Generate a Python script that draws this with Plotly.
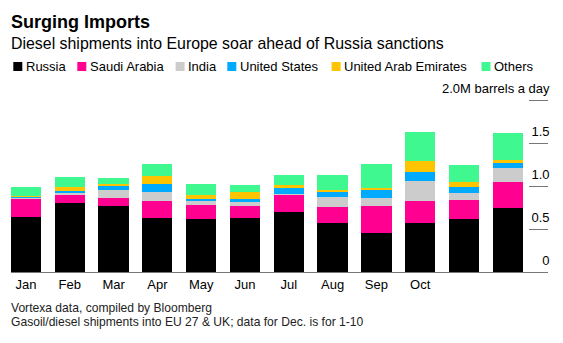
import plotly.graph_objects as go

# Monthly diesel/gasoil imports into EU 27 & UK, million barrels a day
months = ["Jan", "Feb", "Mar", "Apr", "May", "Jun",
          "Jul", "Aug", "Sep", "Oct", "Nov", "Dec"]
russia = [0.646, 0.809, 0.774, 0.626, 0.619, 0.630, 0.696, 0.568, 0.455, 0.572, 0.615, 0.751]
saudi_arabia = [0.206, 0.089, 0.086, 0.202, 0.163, 0.144, 0.214, 0.195, 0.315, 0.261, 0.230, 0.304]
india = [0.012, 0.035, 0.097, 0.105, 0.058, 0.047, 0.004, 0.109, 0.089, 0.226, 0.074, 0.160]
united_states = [0.012, 0.012, 0.051, 0.097, 0.012, 0.027, 0.070, 0.070, 0.093, 0.109, 0.074, 0.054]
uae = [0.016, 0.047, 0.023, 0.093, 0.051, 0.086, 0.031, 0.016, 0.031, 0.132, 0.054, 0.035]
others = [0.097, 0.121, 0.070, 0.136, 0.125, 0.082, 0.117, 0.175, 0.280, 0.335, 0.198, 0.323]

series_names = ["Russia", "Saudi Arabia", "India", "United States",
                "United Arab Emirates", "Others"]
series_values = [russia, saudi_arabia, india, united_states, uae, others]
series_colors = ["#000000", "#ff0090", "#cccccc", "#00aaff", "#ffc400", "#40f890"]

y_tick_vals = [0, 0.5, 1.0, 1.5, 2.0]
y_tick_text = ["0", "0.5", "1.0", "1.5", "2.0M barrels a day"]

title = "Surging Imports"
subtitle = "Diesel shipments into Europe soar ahead of Russia sanctions"
source_lines = ["Vortexa data, compiled by Bloomberg",
                "Gasoil/diesel shipments into EU 27 & UK; data for Dec. is for 1-10"]

FONT = "Liberation Sans, Arial, Helvetica, sans-serif"
W, H = 563, 343
ML, MR, MT, MB = 11, 15, 74, 71
PW, PH = W - ML - MR, H - MT - MB


def px_x(p):
    return (p - ML) / PW


def px_y(p):
    return (H - MB - p) / PH


fig = go.Figure()
for name, vals, color in zip(series_names, series_values, series_colors):
    fig.add_trace(go.Bar(
        x=months, y=vals, name=name,
        marker=dict(color=color, line=dict(width=0)),
        hovertemplate="%{x}: %{y:.2f}M<extra>" + name + "</extra>",
    ))

annotations = []
shapes = []

# headline and subheading
annotations.append(dict(text="<b>" + title + "</b>", x=px_x(9.5), y=px_y(21.7),
                        font=dict(size=18, color="#000000", family=FONT)))
annotations.append(dict(text=subtitle, x=px_x(9.5), y=px_y(43),
                        font=dict(size=15.9, color="#000000", family=FONT)))

# key: colour squares followed by series names
legend_left = [13.3, 77.3, 175.6, 227.3, 331.6, 481.5]
for left, name, color in zip(legend_left, series_names, series_colors):
    shapes.append(dict(type="rect", xref="paper", yref="paper",
                       x0=px_x(left), x1=px_x(left + 9),
                       y0=px_y(71), y1=px_y(62),
                       fillcolor=color, line=dict(width=0)))
    annotations.append(dict(text=name, x=px_x(left + 11.5), y=px_y(66.5),
                            font=dict(size=13, color="#000000", family=FONT)))

# source notes
for i, line in enumerate(source_lines):
    annotations.append(dict(text=line, x=px_x(9.5), y=px_y(308.2 + 14 * i),
                            font=dict(size=12.1, color="#222222", family=FONT)))

for a in annotations:
    a.update(xref="paper", yref="paper", xanchor="left", yanchor="middle",
             showarrow=False, borderpad=0)

fig.update_layout(
    width=W, height=H,
    margin=dict(l=ML, r=MR, t=MT, b=MB, pad=0),
    paper_bgcolor="white", plot_bgcolor="white",
    barmode="stack", bargap=0.31,
    showlegend=False,
    font=dict(family=FONT, size=13, color="#000000"),
    annotations=annotations,
    shapes=shapes,
    xaxis=dict(
        type="category",
        range=[-0.342, 11.918],
        showgrid=False, zeroline=False,
        showline=True, linecolor="#777777", linewidth=1.3,
        ticks="", tickfont=dict(size=13, color="#000000"),
        fixedrange=True,
    ),
    yaxis=dict(
        side="right",
        range=[0, PH / 85.7],
        tickvals=y_tick_vals, ticktext=y_tick_text,
        ticks="inside", ticklen=19, tickwidth=1, tickcolor="#777777",
        ticklabelposition="inside",
        ticklabelshift=-12, ticklabelstandoff=-21,
        tickfont=dict(size=13, color="#000000"),
        showgrid=False, zeroline=False, showline=False,
        fixedrange=True,
    ),
)

fig.write_html("out.html")
